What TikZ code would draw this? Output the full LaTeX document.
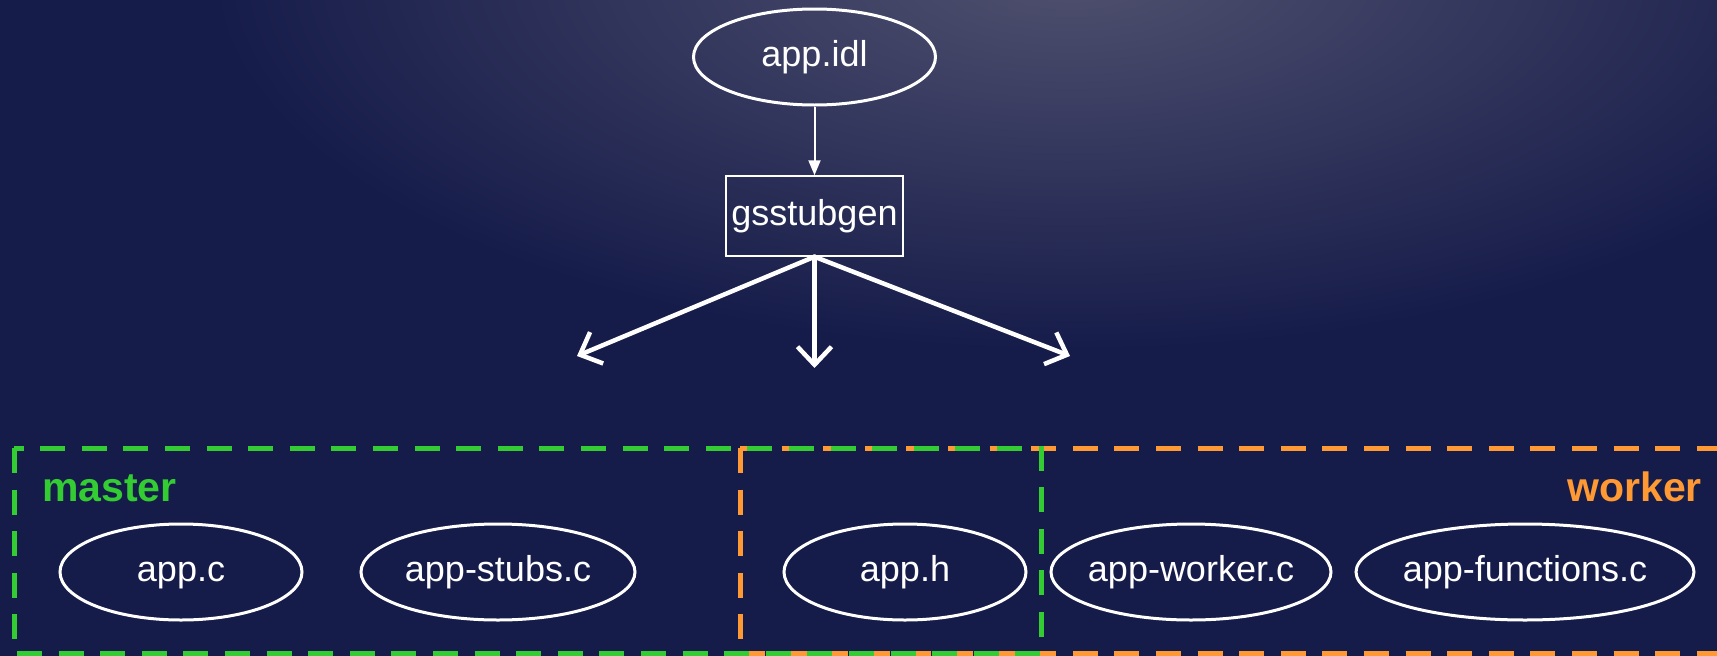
\documentclass[tikz,border=0pt]{standalone}
\usepackage{fontspec}
\setmainfont{Liberation Sans}
\usetikzlibrary{shapes.geometric,arrows.meta}
\definecolor{navy}{HTML}{161C4A}
\definecolor{glow}{HTML}{50516F}
\definecolor{mgreen}{HTML}{33CC33}
\definecolor{worange}{HTML}{FF9933}
% file names are boxed at zero width so the ellipse keeps its set size
\newcommand{\fname}[1]{\makebox[0pt]{#1}}
\tikzset{
  file/.style={draw=white, line width=3pt, ellipse, inner sep=0pt,
    minimum height=96pt, text=white, text height=26pt, text depth=7pt,
    font=\fontsize{36}{40}\selectfont},
  tool/.style={draw=white, line width=1.5pt, rectangle, inner sep=0pt,
    minimum width=177pt, minimum height=80pt, text=white,
    font=\fontsize{36}{40}\selectfont},
  feed/.style={draw=white, line width=2pt,
    -{Triangle[width=12pt,length=15pt]}},
  spread/.style={draw=white, line width=4.5pt, line cap=round,
    -{Straight Barb[width=34pt,length=18pt,line width=4.5pt]}},
  group/.style={line width=5pt, dash pattern=on 25pt off 16.6pt},
  grouplabel/.style={font=\fontsize{41}{44}\selectfont\bfseries, inner sep=0pt}
}
\begin{document}
\begin{tikzpicture}[x=1pt,y=-1pt]
  % background with a soft glow near the top
  \useasboundingbox (0,0) rectangle (1717,656);
  \fill[navy] (0,0) rectangle (1717,656);
  \begin{scope}
    \clip (0,0) rectangle (1717,656);
    \shade[inner color=glow, outer color=navy] (1070,-30) ellipse (860pt and 380pt);
  \end{scope}

  % generator stage
  \node[file, minimum width=242pt] (idl) at (814.5,57) {\fname{app.idl}};
  \node[tool] (gen) at (814.5,216) {gsstubgen};
  \draw[feed] (idl) -- (gen);

  \coordinate (outl) at (577,356);
  \coordinate (outm) at (814.5,368);
  \coordinate (outr) at (1070,356);
  \draw[spread] (gen.south) -- (outl);
  \draw[spread] (gen.south) -- (outm);
  \draw[spread] (gen.south) -- (outr);

  % worker and master groups
  \draw[group, worange] (740,448) -- (1730,448);
  \draw[group, worange] (740,653) -- (1730,653);
  \draw[group, worange] (740,448) -- (740,653);
  \draw[group, mgreen] (14,448) rectangle (1041,653);

  \node[grouplabel, text=mgreen, anchor=base west] (mlabel) at (42,501) {master};
  \node[grouplabel, text=worange, anchor=base east] (wlabel) at (1702,501) {worker};

  % generated files
  \node[file, minimum width=242pt] (appc) at (181,572) {\fname{app.c}};
  \node[file, minimum width=274pt] (stubs) at (498,572) {\fname{app-stubs.c}};
  \node[file, minimum width=242pt] (apph) at (905,572) {\fname{app.h}};
  \node[file, minimum width=280pt] (wrk) at (1191,572) {\fname{app-worker.c}};
  \node[file, minimum width=338pt] (fun) at (1525,572) {\fname{app-functions.c}};
\end{tikzpicture}
\end{document}
